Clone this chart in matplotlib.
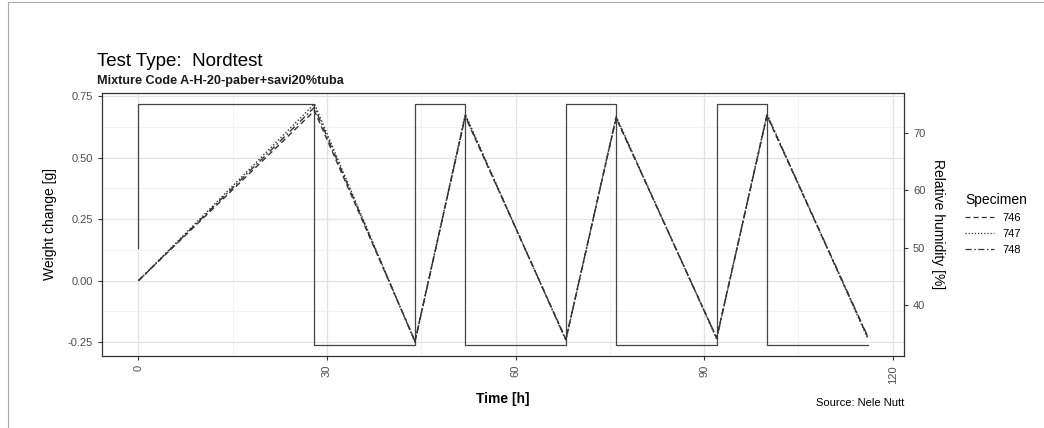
import numpy as np
import matplotlib.pyplot as plt
from matplotlib.lines import Line2D
from matplotlib.ticker import MultipleLocator

plt.rcParams['font.family'] = ['Liberation Sans', 'DejaVu Sans']

# Relative humidity step profile
rh_time = [0, 0, 28, 28, 44, 44, 52, 52, 68, 68, 76, 76, 92, 92, 100, 100, 116]
rh_value = [50, 75, 75, 33, 33, 75, 75, 33, 33, 75, 75, 33, 33, 75, 75, 33, 33]

# Weight change per specimen
time_h = [0, 28, 44, 52, 68, 76, 92, 100, 116]
specimens = ['746', '747', '748']
w746 = [0.0, 0.690, -0.245, 0.666, -0.238, 0.660, -0.232, 0.670, -0.228]
w747 = [0.0, 0.718, -0.250, 0.676, -0.243, 0.667, -0.237, 0.677, -0.233]
w748 = [0.0, 0.704, -0.247, 0.670, -0.240, 0.663, -0.234, 0.673, -0.225]
weights = [w746, w747, w748]
styles = [(0, (4, 2.5)), (0, (1, 1.5)), (0, (5, 2, 1.2, 2))]

fig = plt.figure(figsize=(10.44, 4.28), dpi=100)
ax = fig.add_axes([102 / 1044, 1 - 356 / 428, 802 / 1044, 263 / 428])

# map RH (right axis) onto weight scale
ylo, yhi = -0.306, 0.762
def rh_to_w(r):
    return -0.0986 + 0.02326 * (np.asarray(r) - 40)

ax.plot(rh_time, rh_to_w(rh_value), color='#444444', lw=0.9, zorder=3)
for name, w, ls in zip(specimens, weights, styles):
    ax.plot(time_h, w, color='#333333', lw=1.0, ls=ls, label=name, zorder=4)

ax.set_xlim(-5.8, 121.8)
ax.set_ylim(ylo, yhi)
ax.xaxis.set_major_locator(MultipleLocator(30))
ax.xaxis.set_minor_locator(MultipleLocator(15))
ax.yaxis.set_major_locator(MultipleLocator(0.25))
ax.yaxis.set_minor_locator(MultipleLocator(0.125))
ax.grid(which='major', color='#e3e3e3', lw=0.9)
ax.grid(which='minor', color='#f0f0f0', lw=0.6)
ax.set_axisbelow(True)
ax.yaxis.set_major_formatter(plt.FuncFormatter(lambda v, p: f'{v:.2f}'))
ax.tick_params(axis='x', labelrotation=90)
ax.tick_params(which='major', length=3, color='#333333', labelsize=8, labelcolor='#4d4d4d')
ax.tick_params(which='minor', length=0)
for s in ax.spines.values():
    s.set_color('#333333')
    s.set_linewidth(0.9)
ax.set_xlabel('Time [h]', fontsize=10, fontweight='bold', labelpad=6)
ax.set_ylabel('Weight change [g]', fontsize=10, labelpad=8)

ax2 = ax.twinx()
r_lo = 40 + (ylo + 0.0986) / 0.02326
r_hi = 40 + (yhi + 0.0986) / 0.02326
ax2.set_ylim(r_lo, r_hi)
ax2.yaxis.set_major_locator(MultipleLocator(10))
ax2.tick_params(length=3, color='#333333', labelsize=8, labelcolor='#4d4d4d')
ax2.set_ylabel('Relative humidity [%]', fontsize=10, rotation=270, labelpad=14)
for s in ax2.spines.values():
    s.set_visible(False)

leg = fig.legend(handles=[Line2D([], [], color='#333333', lw=0.9, ls=ls) for ls in styles],
                 labels=specimens, title='Specimen', loc='upper left',
                 bbox_to_anchor=(955 / 1044, 1 - 183 / 428), frameon=False,
                 fontsize=8, title_fontsize=10, handlelength=2.6, labelspacing=0.55,
                 alignment='left')

fig.text(97 / 1044, 1 - 66 / 428, 'Test Type:  Nordtest', fontsize=13.5)
fig.text(97 / 1044, 1 - 84 / 428, 'Mixture Code A-H-20-paber+savi20%tuba', fontsize=9.1,
         fontweight='bold', color='#1a1a1a')
fig.text(904 / 1044, 1 - 406 / 428, 'Source: Nele Nutt', fontsize=8, ha='right')

# outer frame of the screenshot
fig.add_artist(Line2D([8 / 1044, 8 / 1044], [0, 1 - 2 / 428], color='#aaaaaa', lw=0.8))
fig.add_artist(Line2D([8 / 1044, 1], [1 - 2 / 428, 1 - 2 / 428], color='#aaaaaa', lw=0.8))

fig.savefig('out.png', dpi=100)
